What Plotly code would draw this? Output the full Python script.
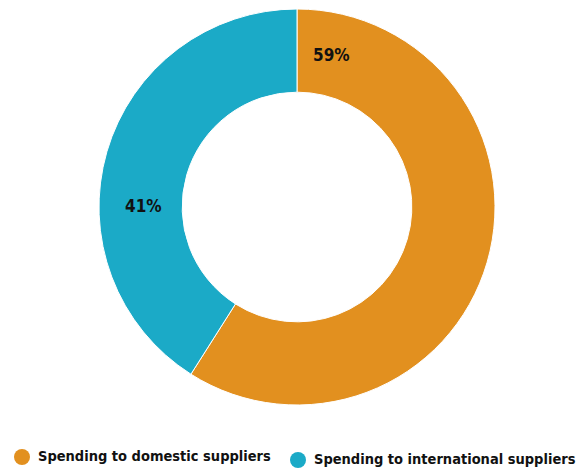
import plotly.graph_objects as go

# Supplier spending split
categories = ["Spending to domestic suppliers", "Spending to international suppliers"]
shares = [59, 41]
colors = ["#E2901F", "#1BAAC7"]

W, H = 577, 468
FONT = "DejaVu Sans Condensed"

fig = go.Figure()

fig.add_trace(go.Pie(
    labels=categories,
    values=shares,
    hole=0.58,
    sort=False,
    direction="clockwise",
    rotation=0,
    marker=dict(colors=colors, line=dict(color="white", width=1)),
    textinfo="none",
    hoverinfo="label+percent",
    showlegend=False,
    domain=dict(x=[99 / W, 495 / W], y=[1 - 405 / H, 1 - 9 / H]),
))

# Percentage labels placed on each ring segment
label_pos = [(331, 55), (143.5, 206)]
for v, (px, py) in zip(shares, label_pos):
    fig.add_annotation(
        x=px / W, y=1 - py / H, xref="paper", yref="paper",
        text=f"<b>{v}%</b>", showarrow=False,
        font=dict(family=FONT, size=17, color="#111111"),
        xanchor="center", yanchor="middle",
    )

# Key along the bottom: colour dot followed by bold label
key_pos = [(22, 457), (298, 460)]
R = 8
for name, col, (cx, cy) in zip(categories, colors, key_pos):
    fig.add_shape(
        type="circle", xref="paper", yref="paper",
        x0=(cx - R) / W, x1=(cx + R) / W,
        y0=1 - (cy + R) / H, y1=1 - (cy - R) / H,
        fillcolor=col, line=dict(width=0),
    )
    fig.add_annotation(
        x=(cx + 14) / W, y=1 - (cy - 1) / H, xref="paper", yref="paper",
        text=f"<b>{name}</b>", showarrow=False,
        font=dict(family=FONT, size=14.5, color="#111111"),
        xanchor="left", yanchor="middle",
    )

fig.update_layout(
    width=W, height=H,
    margin=dict(l=0, r=0, t=0, b=0),
    paper_bgcolor="white", plot_bgcolor="white",
    showlegend=False,
)

fig.write_html("out.html")
